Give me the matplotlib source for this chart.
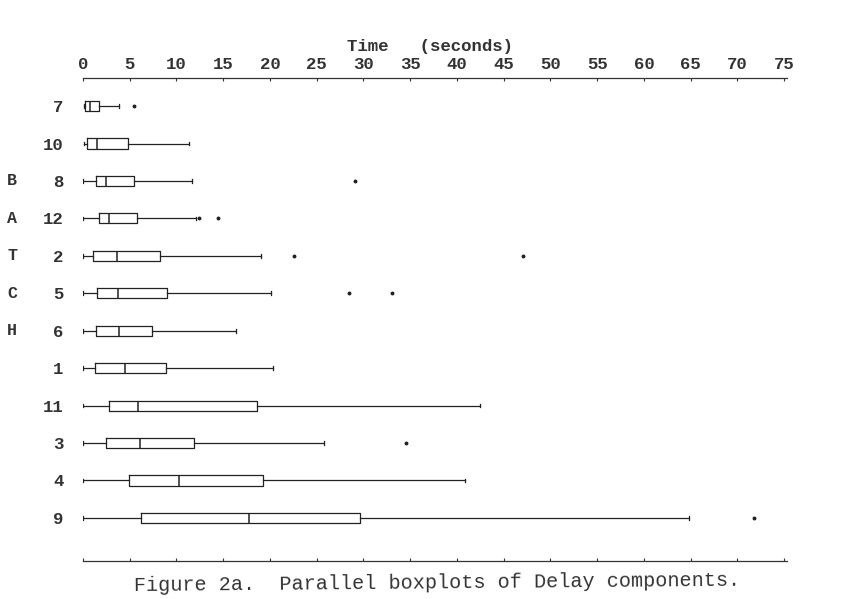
import matplotlib
matplotlib.use('Agg')
import matplotlib.pyplot as plt
import matplotlib.transforms as mtransforms

# Rows from top to bottom, Delay component boxplots (seconds)
rows = ['7', '10', '8', '12', '2', '5', '6', '1', '11', '3', '4', '9']
whis_lo = [0.1, 0.1, 0.0, 0.0, 0.0, 0.0, 0.0, 0.0, 0.0, 0.0, 0.0, 0.0]
q1 = [0.25, 0.4, 1.35, 1.7, 1.1, 1.5, 1.35, 1.25, 2.8, 2.45, 4.95, 6.2]
med = [0.75, 1.5, 2.45, 2.8, 3.6, 3.7, 3.85, 4.45, 5.9, 6.1, 10.3, 17.8]
q3 = [1.7, 4.8, 5.45, 5.75, 8.2, 9.0, 7.35, 8.85, 18.6, 11.9, 19.3, 29.6]
whis_hi = [3.9, 11.3, 11.7, 12.1, 19.0, 20.1, 16.4, 20.3, 42.5, 25.8, 40.9, 64.8]
outliers = [[5.5], [], [29.1], [12.4, 14.4], [22.6, 47.1], [28.4, 33.1],
            [], [], [], [34.5], [], [71.8]]
batch_letters = {'8': 'B', '12': 'A', '2': 'T', '5': 'C', '6': 'H'}
xticks = list(range(0, 80, 5))

mono = 'Liberation Mono'

stats = []
for i in range(len(rows)):
    stats.append({'whislo': whis_lo[i], 'q1': q1[i], 'med': med[i],
                  'q3': q3[i], 'whishi': whis_hi[i], 'fliers': outliers[i]})

fig = plt.figure(figsize=(8.6, 5.99), dpi=100)
ax = fig.add_axes([83 / 860, 1 - 561 / 599, 704 / 860, (561 - 78) / 599])

line = dict(color='#222222', linewidth=0.9)
positions = list(range(1, len(rows) + 1))
ax.bxp(stats, positions=positions, vert=False, widths=0.27, capwidths=0.1,
       boxprops=line, whiskerprops=line, capprops=line,
       medianprops=dict(color='#222222', linewidth=1.1),
       flierprops=dict(marker='o', markersize=1.8, markerfacecolor='#222222',
                       markeredgecolor='#222222'))

ax.set_xlim(0, 75.3)
ax.set_ylim(13.15, 0.25)

ax.set_xticks(xticks)
ax.set_xticklabels([str(t) for t in xticks], fontfamily=mono,
                   fontweight='bold', fontsize=12.5, color='#333333')
ax.tick_params(axis='x', direction='in', length=2.5, width=0.8,
               top=True, bottom=True, labeltop=True, labelbottom=False,
               pad=4, colors='#333333')

ax.set_yticks(positions)
ax.set_yticklabels(rows, fontfamily=mono, fontweight='bold', fontsize=12.5,
                   color='#333333')
ax.tick_params(axis='y', length=0, pad=14)

for s in ['left', 'right']:
    ax.spines[s].set_visible(False)
for s in ['top', 'bottom']:
    ax.spines[s].set_linewidth(0.9)
    ax.spines[s].set_color('#333333')

# B A T C H down the left side
blend = mtransforms.blended_transform_factory(fig.transFigure, ax.transData)
for i, r in enumerate(rows):
    if r in batch_letters:
        fig.text(12 / 860, positions[i], batch_letters[r], fontfamily=mono,
                 fontweight='bold', fontsize=12, color='#333333',
                 ha='center', va='center', transform=blend)

fig.text(430 / 860, 1 - 47 / 599, 'Time   (seconds)', fontfamily=mono,
         fontweight='bold', fontsize=12.5, color='#333333',
         ha='center', va='center')

fig.text(437 / 860, 4 / 599,
         'Figure 2a.  Parallel boxplots of Delay components.',
         fontfamily=mono, fontsize=14.5, color='#333333',
         ha='center', va='bottom', rotation=0.5)

fig.savefig('out.png', dpi=100)
